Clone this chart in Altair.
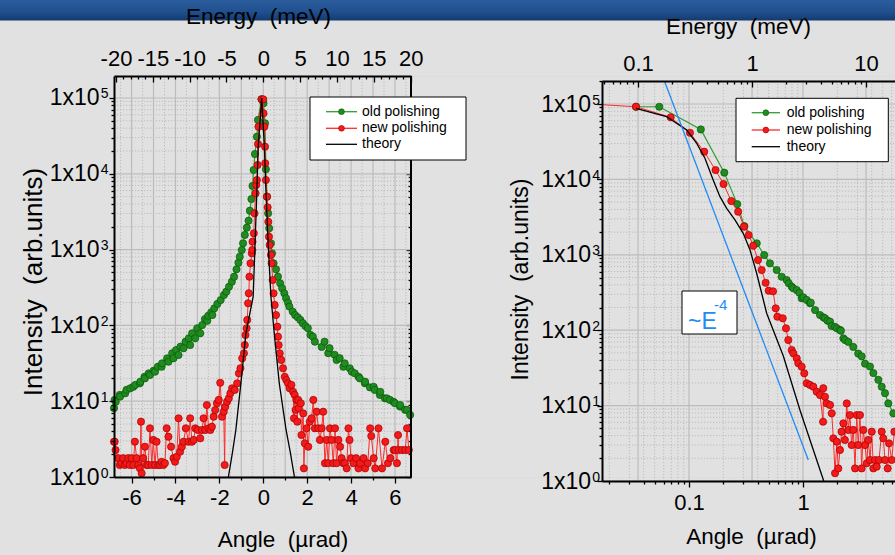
import altair as alt
import pandas as pd

# ---------------- data ----------------
# Left panel: intensity vs angle (µrad), linear angle axis
left_green = [(-6.80, 8.1), (-6.77, 10.4), (-6.72, 9.8), (-6.54, 12.1), (-6.52, 11.5), (-6.29, 12.7),
              (-6.23, 14.1), (-6.06, 14.8), (-5.92, 15.5), (-5.83, 16.4), (-5.62, 17.2), (-5.60, 18.1),
              (-5.41, 21.0), (-5.39, 20.0), (-5.22, 23.3), (-5.16, 22.2), (-4.99, 25.3), (-4.93, 24.5),
              (-4.80, 28.5), (-4.63, 28.5), (-4.61, 31.6), (-4.38, 36.8), (-4.32, 33.2), (-4.15, 42.9),
              (-4.09, 36.8), (-3.97, 47.3), (-3.86, 40.7), (-3.77, 52.4), (-3.63, 49.9), (-3.54, 61.0),
              (-3.39, 67.6), (-3.33, 55.1), (-3.24, 78.7), (-3.10, 67.6), (-3.01, 91.6), (-2.87, 78.7),
              (-2.78, 101), (-2.66, 121), (-2.55, 115), (-2.51, 134), (-2.37, 149), (-2.32, 137),
              (-2.23, 168), (-2.09, 192), (-1.94, 216), (-1.79, 252), (-1.68, 279), (-1.56, 324),
              (-1.43, 377), (-1.33, 439), (-1.22, 549), (-1.13, 671), (-1.07, 805), (-0.98, 988),
              (-0.92, 1210), (-0.84, 1560), (-0.75, 1945), (-0.67, 2405), (-0.61, 3260), (-0.54, 4650),
              (-0.49, 6910), (-0.44, 11220), (-0.38, 18240), (-0.29, 30830), (-0.24, 51280), (-0.08, 96100),
              (0.01, 85100), (0.08, 46370), (0.12, 11460), (0.17, 4990), (0.22, 3010), (0.27, 1910),
              (0.35, 1210), (0.40, 893), (0.47, 659), (0.58, 549), (0.67, 439), (0.77, 359), (0.86, 308),
              (0.96, 265), (1.04, 228), (1.13, 199), (1.19, 177), (1.34, 152), (1.45, 137), (1.57, 128),
              (1.69, 118), (1.80, 107), (1.92, 98), (2.03, 92), (2.15, 75), (2.26, 71), (2.35, 61),
              (2.66, 52), (2.79, 61), (2.96, 43), (3.02, 50), (3.25, 41), (3.34, 35), (3.48, 37),
              (3.65, 28.5), (3.71, 31.6), (3.94, 27.2), (4.03, 24.5), (4.17, 23.3), (4.34, 21.0),
              (4.40, 20.0), (4.63, 17.2), (4.64, 18.1), (4.86, 15.2), (5.03, 15.5), (5.08, 14.1),
              (5.31, 12.1), (5.33, 13.3), (5.54, 10.9), (5.63, 10.9), (5.77, 10.4), (5.94, 9.8),
              (6.00, 9.4), (6.23, 8.5), (6.24, 8.9), (6.46, 7.7), (6.55, 7.7), (6.69, 6.6)]

left_red = [(-6.80, 2.92), (-6.77, 2.92), (-6.73, 2.27), (-6.61, 1.77), (-6.54, 1.44), (-6.46, 1.52),
            (-6.38, 1.77), (-6.31, 1.44), (-6.23, 1.52), (-6.15, 1.77), (-6.08, 1.44), (-6.00, 1.77),
            (-5.92, 1.44), (-5.85, 2.92), (-5.77, 1.77), (-5.69, 1.44), (-5.62, 1.30), (-5.57, 5.37),
            (-5.54, 1.12), (-5.47, 1.77), (-5.39, 2.51), (-5.31, 1.44), (-5.24, 1.44), (-5.16, 4.39),
            (-5.08, 1.44), (-5.01, 3.08), (-4.93, 1.44), (-4.86, 2.92), (-4.78, 1.44), (-4.70, 1.44),
            (-4.63, 1.59), (-4.55, 1.44), (-4.48, 1.52), (-4.40, 4.39), (-4.32, 3.40), (-4.20, 2.51),
            (-4.09, 1.77), (-4.02, 1.59), (-3.94, 1.85), (-3.86, 5.95), (-3.79, 2.16), (-3.71, 2.51),
            (-3.63, 2.92), (-3.53, 4.39), (-3.40, 2.92), (-3.33, 5.95), (-3.25, 2.92), (-3.17, 3.08),
            (-3.10, 4.39), (-2.98, 4.17), (-2.87, 3.24), (-2.79, 4.17), (-2.72, 5.95), (-2.64, 4.17),
            (-2.57, 8.91), (-2.49, 4.39), (-2.41, 4.17), (-2.34, 4.61), (-2.26, 6.25), (-2.19, 7.65),
            (-2.11, 9.38), (-2.03, 10.4), (-1.96, 17.5), (-1.88, 6.25), (-1.80, 7.27), (-1.76, 1.44),
            (-1.73, 8.46), (-1.65, 9.85), (-1.57, 10.9), (-1.50, 12.7), (-1.42, 14.8), (-1.30, 14.1),
            (-1.19, 17.2), (-1.11, 23.3), (-1.04, 27.2), (-0.96, 36.8), (-0.88, 42.9), (-0.84, 55.1),
            (-0.81, 74.7), (-0.76, 91.6), (-0.73, 118), (-0.69, 196), (-0.66, 265), (-0.63, 439),
            (-0.58, 659), (-0.52, 893), (-0.50, 988), (-0.49, 1270), (-0.43, 1640), (-0.40, 3010),
            (-0.35, 5530), (-0.32, 7110), (-0.29, 8280), (-0.26, 13070), (-0.24, 24720), (-0.22, 41800),
            (-0.08, 96100), (0.00, 96100), (0.01, 62800), (0.05, 41800), (0.08, 22800), (0.09, 13770),
            (0.12, 8280), (0.17, 4990), (0.20, 3610), (0.23, 2330), (0.26, 1480), (0.29, 1150),
            (0.35, 849), (0.38, 659), (0.43, 397), (0.47, 265), (0.52, 186), (0.58, 137), (0.64, 96.1),
            (0.67, 71.0), (0.70, 55.1), (0.75, 42.9), (0.82, 35.0), (0.90, 27.2), (0.98, 21.0),
            (1.05, 19.0), (1.13, 17.2), (1.20, 14.8), (1.28, 16.4), (1.36, 13.3), (1.40, 5.95),
            (1.43, 12.1), (1.47, 7.65), (1.51, 10.4), (1.55, 5.37), (1.59, 10.4), (1.62, 8.06),
            (1.71, 9.38), (1.74, 3.58), (1.82, 6.92), (1.85, 1.30), (1.89, 2.78), (1.97, 4.39),
            (2.05, 2.51), (2.12, 5.37), (2.20, 5.95), (2.28, 10.4), (2.35, 4.39), (2.43, 7.27),
            (2.51, 4.39), (2.58, 3.08), (2.66, 4.39), (2.73, 7.27), (2.81, 1.52), (2.89, 3.08),
            (2.96, 1.52), (3.04, 4.39), (3.11, 3.08), (3.19, 1.52), (3.27, 4.39), (3.34, 1.52),
            (3.42, 3.08), (3.50, 2.51), (3.57, 1.77), (3.65, 1.52), (3.72, 1.52), (3.80, 1.30),
            (3.88, 4.39), (3.93, 3.08), (4.00, 1.77), (4.11, 1.52), (4.23, 1.77), (4.34, 1.30),
            (4.41, 1.52), (4.57, 1.77), (4.64, 1.30), (4.76, 1.52), (4.87, 4.39), (4.92, 3.47),
            (5.03, 1.77), (5.10, 1.30), (5.25, 4.39), (5.41, 1.30), (5.56, 2.92), (5.68, 1.52),
            (5.79, 1.77), (5.94, 2.27), (6.01, 2.27), (6.09, 1.52), (6.14, 3.58), (6.17, 2.27),
            (6.32, 2.27), (6.47, 2.27), (6.55, 4.39), (6.63, 2.27)]

left_theory = [(-1.59, 1.0), (-1.41, 2.05), (-1.25, 4.17), (-1.02, 17.2), (-0.79, 78.7), (-0.46, 239),
               (-0.38, 1090), (-0.29, 6110), (-0.23, 22800), (-0.07, 100000), (0.05, 22800),
               (0.12, 6110), (0.23, 1090), (0.35, 239), (0.50, 78.7), (0.73, 17.2), (1.04, 4.17),
               (1.24, 2.05), (1.42, 1.0)]

# Right panel: log-log view
right_green = [(0.0343, 92000), (0.0549, 92000), (0.127, 46000), (0.204, 12300), (0.265, 4700),
               (0.306, 2400), (0.393, 1420), (0.457, 994), (0.513, 771), (0.588, 629), (0.650, 512),
               (0.719, 463), (0.75, 419), (0.796, 378), (0.82, 360), (0.881, 341), (0.93, 314),
               (0.974, 265), (1.006, 273), (1.077, 252), (1.152, 228), (1.17, 232), (1.275, 185),
               (1.41, 159), (1.51, 148), (1.56, 144), (1.64, 134), (1.726, 130), (1.78, 114),
               (1.91, 111), (1.98, 106), (2.11, 101), (2.15, 98.5), (2.26, 78), (2.34, 74), (2.50, 70),
               (2.76, 60), (3.05, 49), (3.27, 45), (3.50, 36), (3.87, 33), (4.14, 27), (4.58, 22),
               (4.90, 17.8), (5.24, 14.6), (5.60, 10.7), (6.20, 7.9)]

right_red = [(0.01726, 98000), (0.0343, 92000), (0.0691, 66600), (0.102, 41600), (0.136, 23300),
             (0.171, 13300), (0.201, 8690), (0.235, 5170), (0.270, 3730), (0.304, 2360), (0.334, 1830),
             (0.366, 1320), (0.403, 853), (0.434, 628), (0.470, 426), (0.500, 334), (0.546, 328),
             (0.576, 195), (0.596, 151), (0.664, 144), (0.709, 106), (0.743, 74.1), (0.796, 54.6),
             (0.822, 49.4), (0.881, 42.4), (0.909, 36.4), (0.974, 32.8), (1.026, 26.8), (1.077, 19.8),
             (1.152, 18.8), (1.231, 17.8), (1.318, 15.3), (1.41, 13.8), (1.50, 6.11), (1.507, 17.0),
             (1.56, 13.1), (1.614, 10.7), (1.726, 10.2), (1.786, 7.9), (1.845, 3.68), (1.91, 1.27),
             (1.977, 3.32), (2.04, 1.47), (2.11, 2.58), (2.18, 4.51), (2.26, 5.82), (2.33, 3.50),
             (2.42, 10.7), (2.50, 4.75), (2.58, 7.5), (2.67, 3.0), (2.76, 4.75), (2.86, 1.47),
             (2.96, 7.5), (3.05, 3.0), (3.16, 7.5), (3.27, 1.47), (3.38, 4.75), (3.50, 3.0),
             (3.62, 1.72), (3.74, 3.50), (3.87, 1.90), (4.01, 4.51), (4.14, 1.47), (4.29, 1.90),
             (4.43, 1.55), (4.64, 1.90), (4.90, 4.51), (5.06, 3.68), (5.24, 1.90), (5.53, 1.47),
             (5.68, 3.16), (6.0, 1.90), (6.33, 4.51)]

right_theory = [(0.0343, 87700), (0.0637, 67900), (0.0954, 45200), (0.117, 30100), (0.138, 19100),
                (0.163, 9820), (0.187, 5900), (0.214, 4140), (0.253, 2900), (0.299, 1930),
                (0.343, 1160), (0.392, 569), (0.434, 309), (0.480, 168), (0.672, 45.5), (0.94, 8.75),
                (1.52, 1.0)]

slope_line = [(0.061, 2.0e5), (1.113, 1.9)]   # ~E^-4 guide

legend_labels = ["old polishing", "new polishing", "theory"]
left_angle_ticks = [-6, -4, -2, 0, 2, 4, 6]
left_energy_ticks = [-20, -15, -10, -5, 0, 5, 10, 15, 20]
right_angle_ticks = [0.1, 1]
right_energy_ticks = [0.1, 1, 10]
decades = [1, 10, 100, 1000, 10000, 100000]

# ---------------- layout / styles ----------------
FONT = "Liberation Sans"
W, H = 781, 401
LW = 297
RX0, RX1, RY0, RY1 = 488, 781, 5, 405
GREEN, GREEN_L, GREEN_S = "#1f8c1f", "#2f9d2f", "#0b560b"
RED, RED_L, RED_S = "#f21a1a", "#ff2a2a", "#a80000"
BLUE = "#1e8cf5"
MAJOR, MINOR = "#bcbcbc", "#b8b8b8"
PT = 52

LX = alt.Scale(domain=[-6.8, 6.73], range=[0, LW], nice=False, zero=False)
LE = alt.Scale(domain=[-20.27, 20.05], range=[0, LW], nice=False, zero=False)
LY = alt.Scale(type="log", domain=[1, 1.95e5], range=[H, 0], nice=False)
RXs = alt.Scale(type="log", domain=[0.01726, 6.41], range=[RX0, RX1], nice=False)
REs = alt.Scale(type="log", domain=[0.0483, 17.95], range=[RX0, RX1], nice=False)
RYs = alt.Scale(type="log", domain=[1, 2.02e5], range=[RY1, RY0], nice=False)


def minors(lo, hi, exps):
    return [k * 10.0 ** e for e in exps for k in range(2, 10) if lo <= k * 10.0 ** e <= hi]


ly_minor = minors(1, 1.95e5, range(0, 6))
ry_minor = minors(1, 2.02e5, range(0, 6))
rx_minor = minors(0.01726, 6.41, (-2, -1, 0))
re_minor = minors(0.0483, 17.95, (-2, -1, 0, 1))

one = pd.DataFrame({"a": [0]})

BASE_AXIS = dict(grid=False, zindex=1, labelFont=FONT, labelFontSize=22, labelColor="black",
                 tickColor="black", tickWidth=1.3, domainColor="black", domainWidth=2,
                 labelFlush=False, labelOverlap=False, titleFont=FONT, titleFontSize=22.5,
                 titleFontWeight="normal", titleColor="black")
TICKS_ONLY = dict(labels=False, domain=False)
NO_TICKS = dict(ticks=False, tickSize=0)
EXPONENT = "'' + round(log(datum.value) / LN10)"


def axis_layer(channel, scale, values, **kw):
    opts = dict(BASE_AXIS)
    opts.update(kw)
    if "title" not in opts:
        opts["title"] = None
    ax = alt.Axis(values=values, **opts)
    df = pd.DataFrame({"v": values})
    if channel == "x":
        enc = {"x": alt.X("v:Q", scale=scale, axis=ax)}
    else:
        enc = {"y": alt.Y("v:Q", scale=scale, axis=ax)}
    return alt.Chart(df).mark_point(opacity=0).encode(**enc)


def hgrid(values, scale, x0, x1, color, width, dash=None):
    mk = dict(color=color, strokeWidth=width)
    if dash:
        mk["strokeDash"] = dash
    return alt.Chart(pd.DataFrame({"v": values})).mark_rule(**mk).encode(
        y=alt.Y("v:Q", scale=scale, axis=None), x=alt.value(x0), x2=alt.value(x1))


def vgrid(values, scale, y0, y1, color, width, dash=None):
    mk = dict(color=color, strokeWidth=width)
    if dash:
        mk["strokeDash"] = dash
    return alt.Chart(pd.DataFrame({"v": values})).mark_rule(**mk).encode(
        x=alt.X("v:Q", scale=scale, axis=None), y=alt.value(y0), y2=alt.value(y1))


def series(pairs, xs, ys, line_color, width=1.0, fill=None, stroke=None, min_x=None):
    df = pd.DataFrame(pairs, columns=["x", "y"])
    enc = dict(x=alt.X("x:Q", scale=xs, axis=None), y=alt.Y("y:Q", scale=ys, axis=None))
    out = [alt.Chart(df).mark_line(color=line_color, strokeWidth=width).encode(**enc)]
    if fill:
        pts = alt.Chart(df).mark_circle(size=PT, color=fill, stroke=stroke, strokeWidth=0.7,
                                        opacity=1).encode(**enc)
        if min_x is not None:
            pts = pts.transform_filter(alt.datum.x > min_x)
        out.append(pts)
    return out


def legend(x0, y0, x1, y1, lx0, lx1, tx, rows):
    out = [alt.Chart(one).mark_rect(fill="white", stroke="black", strokeWidth=1).encode(
        x=alt.value(x0), x2=alt.value(x1), y=alt.value(y0), y2=alt.value(y1))]
    styles = [(GREEN_L, GREEN, GREEN_S), (RED_L, RED, RED_S), ("black", None, None)]
    for label, ry, (lc, fc, sc) in zip(legend_labels, rows, styles):
        out.append(alt.Chart(one).mark_rule(color=lc, strokeWidth=1.3).encode(
            x=alt.value(lx0), x2=alt.value(lx1), y=alt.value(ry)))
        if fc:
            out.append(alt.Chart(one).mark_circle(size=34, color=fc, stroke=sc, strokeWidth=0.6,
                                                  opacity=1).encode(
                x=alt.value((lx0 + lx1) / 2), y=alt.value(ry)))
        out.append(alt.Chart(one).mark_text(align="left", baseline="middle", font=FONT, fontSize=14,
                                            color="black").encode(
            x=alt.value(tx), y=alt.value(ry), text=alt.value(label)))
    return out


def log_y_axes(scale, minor_vals, offset, main_pad, sup_pad, title, title_size, title_x, title_y):
    common = dict(orient="left")
    if offset:
        common["offset"] = offset
    return [
        axis_layer("y", scale, decades, tickSize=5, labelPadding=main_pad, labelFontSize=23,
                   labelExpr="'1x10'", title=title, titleFontSize=title_size, titleAngle=270,
                   titleX=title_x, titleY=title_y, titleAlign="center", titleBaseline="alphabetic",
                   **common),
        axis_layer("y", scale, decades, domain=False, labelPadding=sup_pad, labelFontSize=14,
                   labelAlign="right", labelOffset=-4, labelExpr=EXPONENT, **NO_TICKS, **common),
        axis_layer("y", scale, minor_vals, tickSize=3, **TICKS_ONLY, **common),
    ]


layers = []

# slide header band
band_fill = alt.LinearGradient(
    gradient="linear", x1=0, x2=0, y1=0, y2=1,
    stops=[alt.GradientStop(color="#2b5c9c", offset=0), alt.GradientStop(color="#1f4f8f", offset=0.6),
           alt.GradientStop(color="#143a6e", offset=1)])
layers.append(alt.Chart(one).mark_rect(fill=band_fill).encode(
    x=alt.value(-114), x2=alt.value(W), y=alt.value(-76), y2=alt.value(-55.5)))

# grids
layers += [
    hgrid(ly_minor, LY, 0, LW, MINOR, 0.9, [1.2, 1.8]),
    vgrid([v + 0.5 for v in range(-7, 7)], LX, 0, H, MINOR, 0.9, [1.2, 1.8]),
    hgrid(decades, LY, 0, LW, MAJOR, 1.2),
    vgrid(list(range(-6, 7)), LX, 0, H, MAJOR, 1.2),
    hgrid(ry_minor, RYs, RX0, RX1, MINOR, 0.9, [1.2, 1.8]),
    vgrid(rx_minor, RXs, RY0, RY1, MINOR, 0.9, [1.2, 1.8]),
    hgrid(decades, RYs, RX0, RX1, MAJOR, 1.2),
    vgrid(right_angle_ticks, RXs, RY0, RY1, MAJOR, 1.2),
    vgrid(right_energy_ticks, REs, RY0, RY1, MAJOR, 1.2),
]

# data
layers += series(left_green, LX, LY, GREEN_L, 1.2, GREEN, GREEN_S)
layers += series(left_red, LX, LY, RED_L, 1.0, RED, RED_S)
layers += series(left_theory, LX, LY, "black", 1.3)
layers += series(right_green, RXs, RYs, GREEN_L, 1.2, GREEN, GREEN_S)
layers += series(right_red, RXs, RYs, RED_L, 1.0, RED, RED_S, min_x=0.02)
layers += series(right_theory, RXs, RYs, "black", 1.3)
layers += series(slope_line, RXs, RYs, BLUE, 1.3)

# right frame of the left panel
layers.append(alt.Chart(one).mark_rule(color="black", strokeWidth=2).encode(
    x=alt.value(LW), y=alt.value(0), y2=alt.value(H)))

# legends
layers += legend(196, 21, 352, 84, 212, 243, 248, [35.7, 52.3, 68.3])
layers += legend(622, 22.3, 774.3, 85.7, 637.7, 666, 672.7, [36.7, 54, 70.7])

# ~E^-4 annotation
layers.append(alt.Chart(one).mark_rect(fill="white", stroke="black", strokeWidth=1).encode(
    x=alt.value(568), x2=alt.value(623), y=alt.value(215), y2=alt.value(258)))
layers.append(alt.Chart(one).mark_text(align="left", baseline="alphabetic", font=FONT, fontSize=23,
                                       color=BLUE).encode(
    x=alt.value(574), y=alt.value(252.5), text=alt.value("~E")))
layers.append(alt.Chart(one).mark_text(align="left", baseline="alphabetic", font=FONT, fontSize=15,
                                       color=BLUE).encode(
    x=alt.value(600), y=alt.value(234), text=alt.value("-4")))

# ---- axes: left panel ----
layers += [
    axis_layer("x", LX, left_angle_ticks, orient="bottom", tickSize=6, labelPadding=4,
               labelExpr="'' + datum.value", title="Angle\u00a0\u00a0(\u00b5rad)",
               titleX=168.5, titleY=69.7, titleAlign="center", titleBaseline="alphabetic"),
    axis_layer("x", LX, [-5, -3, -1, 1, 3, 5], orient="bottom", tickSize=3, **TICKS_ONLY),
    axis_layer("x", LE, left_energy_ticks, orient="top", labelPadding=6, **NO_TICKS,
               labelExpr="'' + datum.value", title="Energy\u00a0\u00a0(meV)",
               titleX=144, titleY=-53, titleAlign="center", titleBaseline="alphabetic"),
    axis_layer("x", LE, left_energy_ticks, orient="top", offset=-6, tickSize=6, **TICKS_ONLY),
    axis_layer("x", LE, [v for v in range(-20, 21) if v % 5 != 0], orient="top", offset=-3,
               tickSize=3, **TICKS_ONLY),
    axis_layer("y", LY, decades, orient="right", offset=-(W - LW) - 5, tickSize=5, zindex=0,
               **TICKS_ONLY),
    axis_layer("y", LY, ly_minor, orient="right", offset=-(W - LW) - 3, tickSize=3, zindex=0,
               **TICKS_ONLY),
]
layers += log_y_axes(LY, ly_minor, 0, 10, 6, "Intensity\u00a0\u00a0(arb.units)", 26, -73, 205.5)

# ---- axes: right panel ----
layers += [
    axis_layer("x", RXs, right_angle_ticks, orient="bottom", offset=RY1 - H, tickSize=6,
               labelPadding=5, labelExpr="'' + datum.value", title="Angle\u00a0\u00a0(\u00b5rad)",
               titleX=637, titleY=62.3, titleAlign="center", titleBaseline="alphabetic"),
    axis_layer("x", RXs, rx_minor, orient="bottom", offset=RY1 - H, tickSize=3, **TICKS_ONLY),
    axis_layer("x", REs, right_energy_ticks, orient="top", offset=-RY0, labelPadding=6, **NO_TICKS,
               labelExpr="'' + datum.value", title="Energy\u00a0\u00a0(meV)",
               titleX=624, titleY=-48, titleAlign="center", titleBaseline="alphabetic"),
    axis_layer("x", REs, right_energy_ticks, orient="top", offset=-RY0 - 6, tickSize=6, **TICKS_ONLY),
    axis_layer("x", REs, re_minor, orient="top", offset=-RY0 - 3, tickSize=3, **TICKS_ONLY),
]
layers += log_y_axes(RYs, ry_minor, -RX0, 6.5, 2.5, "Intensity\u00a0\u00a0(arb.units)", 23, -75, 203)

chart = alt.layer(*layers).resolve_scale(
    x="independent", y="independent"
).resolve_axis(
    x="independent", y="independent"
).properties(
    width=W, height=H,
    padding={"left": 114, "top": 76, "right": 0, "bottom": 78},
    autosize=alt.AutoSizeParams(type="none"),
    background="#e1e1e1",
).configure_view(stroke="transparent").configure(font=FONT)

chart.save("out.html", embed_options={"renderer": "svg", "actions": False})
